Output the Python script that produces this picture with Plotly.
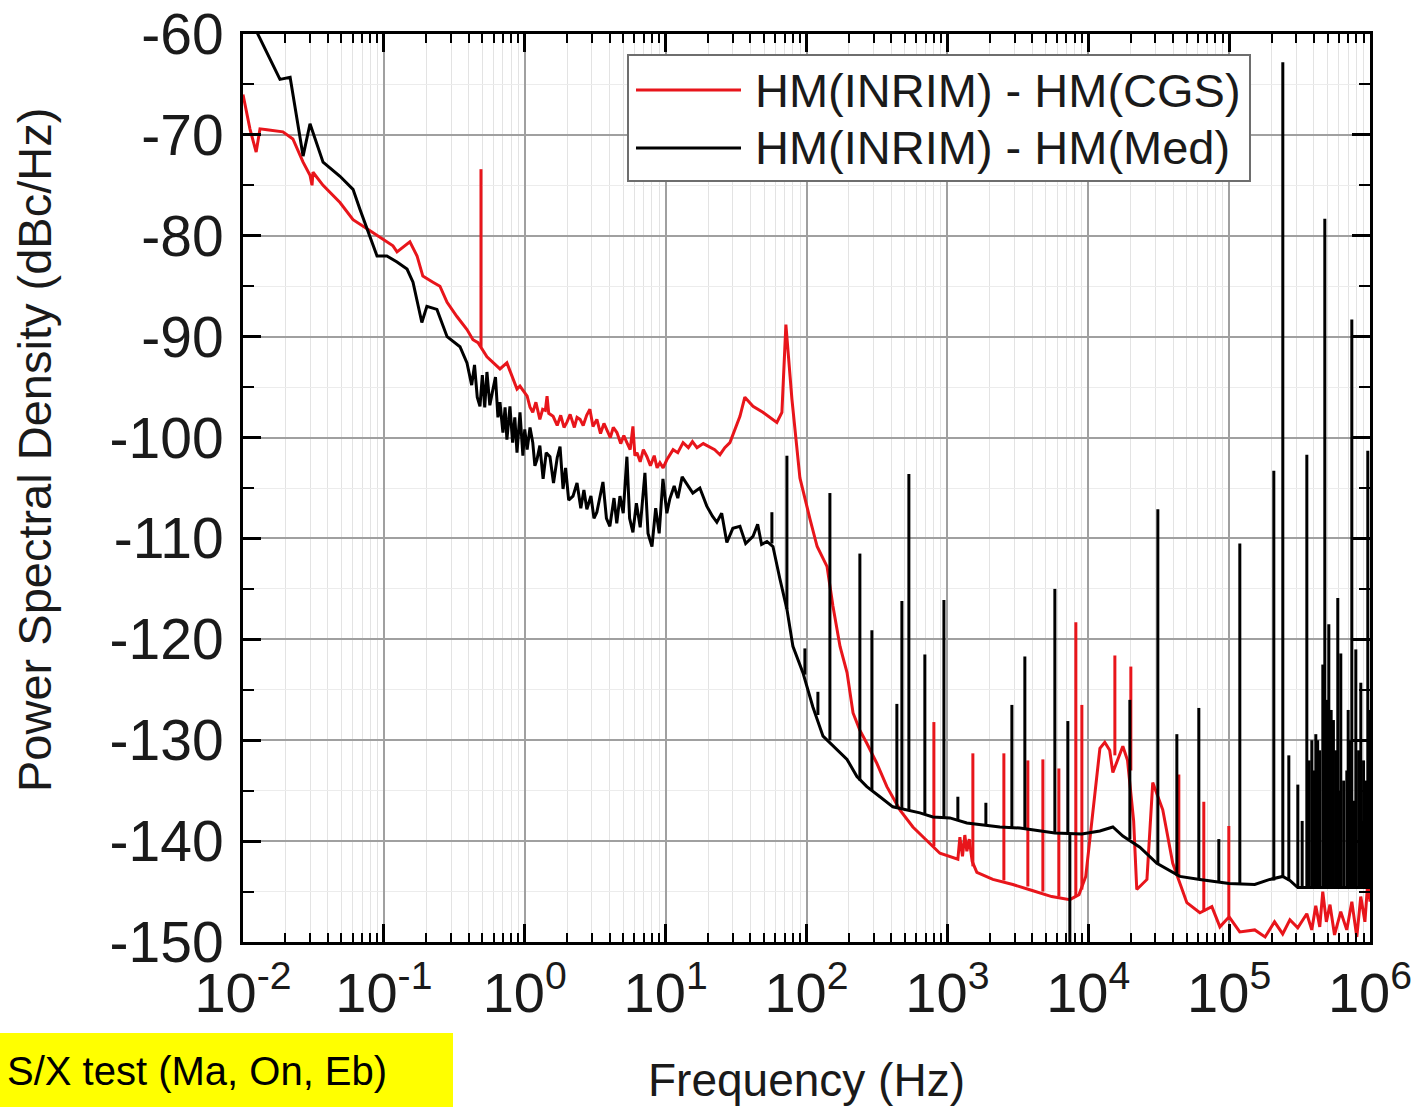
import plotly.graph_objects as go

# ---------------- data ----------------
RED_NAME = "HM(INRIM) - HM(CGS)"
BLACK_NAME = "HM(INRIM) - HM(Med)"

red_f = [0.01, 0.0112, 0.0124, 0.0132, 0.0148, 0.0192, 0.0226, 0.0267, 0.0299, 0.0309,
         0.0314, 0.037, 0.0488, 0.0604, 0.0759, 0.0985, 0.116, 0.124, 0.153, 0.172,
         0.189, 0.223, 0.25, 0.281, 0.33, 0.389, 0.429, 0.466, 0.539, 0.667,
         0.747, 0.881, 0.925, 1.04, 1.09, 1.14, 1.20, 1.28, 1.34, 1.40,
         1.44, 1.48, 1.59, 1.70, 1.80, 1.90, 1.99, 2.10, 2.25, 2.35,
         2.47, 2.60, 2.75, 2.90, 3.05, 3.25, 3.45, 3.65, 3.83, 4.05,
         4.25, 4.51, 4.80, 5.05, 5.31, 5.60, 5.86, 6.05, 6.26, 6.60,
         6.95, 7.37, 7.80, 8.30, 8.70, 9.11, 9.60, 10.2, 11.3, 12.2,
         13.3, 14.5, 15.5, 16.7, 18.5, 20.6, 22.3, 24.3, 26.3, 28.6,
         33.7, 36.5, 41.7, 49.0, 61.6, 66.9, 71.4, 78.8, 89.8, 106,
         119, 140, 154, 173, 194, 214, 239, 268, 316, 372,
         460, 569, 715, 885, 1187, 1227, 1280, 1330, 1375, 1430,
         1500, 1619, 2103, 2917, 4000, 5500, 7400, 8600, 9600, 10800,
         12100, 13100, 14200, 14950, 17600, 19000, 21000, 22100, 26100, 28700,
         33800, 39800, 50100, 62000, 75400, 86000, 100000, 119000, 152000, 180000,
         210000, 240000, 270000, 307000, 356000, 386000, 412000, 440000, 462000, 490000,
         520000, 560000, 620000, 684000, 743000, 806000, 860000, 920000, 965000, 1000000]
red_v = [-66.0, -69.4, -71.7, -69.4, -69.5, -69.7, -70.4, -72.7, -74.0, -75.0,
         -73.7, -75.0, -76.7, -78.4, -79.3, -80.3, -81.0, -81.6, -80.6, -82.0,
         -84.0, -84.6, -85.0, -86.6, -88.0, -89.3, -90.3, -90.6, -92.0, -93.2,
         -92.6, -95.2, -94.9, -95.9, -97.0, -97.5, -96.5, -98.2, -97.2, -97.3,
         -95.9, -97.6, -97.9, -98.8, -97.8, -99.0, -98.5, -97.7, -99.0, -98.0,
         -98.2, -98.8, -97.8, -97.2, -98.9, -98.2, -99.6, -98.6, -99.2, -100.0,
         -99.0, -99.5, -100.6, -99.8, -100.5, -101.2, -98.9, -101.8, -101.5, -102.4,
         -101.2, -101.9, -102.8, -101.8, -103.0, -102.5, -103.0, -102.2, -101.2, -101.5,
         -100.5, -101.0, -100.4, -101.0, -100.6, -100.9, -101.2, -101.7, -101.0, -100.5,
         -97.9, -96.0, -96.9, -97.5, -98.5, -97.5, -88.8, -96.2, -104.0, -108.1,
         -110.8, -112.8, -116.7, -120.7, -123.3, -127.3, -129.0, -130.3, -132.3, -134.6,
         -136.9, -138.6, -139.9, -141.2, -141.8, -139.6, -141.5, -139.4, -141.0, -139.8,
         -142.0, -143.1, -143.8, -144.3, -144.9, -145.5, -145.8, -145.3, -143.5, -137.2,
         -130.8, -130.2, -131.0, -133.2, -130.6, -132.0, -138.0, -144.8, -143.8, -134.2,
         -136.9, -142.2, -146.1, -147.1, -146.5, -148.5, -147.5, -149.0, -148.8, -149.5,
         -148.0, -149.2, -147.8, -148.6, -147.2, -148.8, -146.4, -148.5, -145.0, -148.0,
         -146.3, -149.3, -147.0, -148.8, -146.0, -149.5, -145.5, -148.0, -144.0, -146.0]

# narrow spurs of the red trace: frequency, foot level, peak level
red_spur_f = [0.489, 802, 1517, 2518, 3726, 4763, 6186, 8166, 9008, 15450, 20060, 43950, 66100, 99500]
red_spur_base = [-91.0, -140.5, -142.5, -143.9, -144.5, -145.0, -145.5, -145.5, -144.8, -131.5,
                 -133.0, -143.5, -147.0, -147.5]
red_spur_peak = [-73.4, -128.2, -131.3, -131.3, -132.0, -131.9, -132.8, -118.3, -126.5, -121.6,
                 -122.7, -133.4, -136.1, -138.5]

black_f = [0.01, 0.0183, 0.0216, 0.0267, 0.0299, 0.037, 0.0488, 0.0604, 0.0677, 0.0759,
           0.0894, 0.105, 0.124, 0.146, 0.161, 0.186, 0.202, 0.238, 0.281, 0.347,
           0.389, 0.42, 0.44, 0.46, 0.481, 0.50, 0.52, 0.539, 0.565, 0.595,
           0.62, 0.645, 0.667, 0.70, 0.725, 0.747, 0.785, 0.82, 0.85, 0.881,
           0.925, 0.97, 1.0, 1.04, 1.09, 1.14, 1.18, 1.22, 1.28, 1.35,
           1.42, 1.51, 1.60, 1.70, 1.78, 1.87, 1.95, 2.05, 2.20, 2.35,
           2.50, 2.63, 2.76, 2.95, 3.10, 3.25, 3.40, 3.59, 3.80, 4.02,
           4.30, 4.50, 4.74, 5.00, 5.31, 5.55, 5.86, 6.20, 6.60, 7.13,
           7.50, 8.00, 8.50, 9.0, 9.57, 10.2, 10.7, 11.5, 12.2, 13.1,
           15.6, 17.5, 19.6, 21.5, 23.1, 25.0, 27.2, 30.0, 33.7, 37.0,
           41.7, 45.0, 48.0, 52.4, 57.8, 61.6, 64.7, 72.6, 80.1, 94.3,
           111, 131, 173, 194, 228, 268, 332, 410, 638, 789,
           1041, 1375, 2358, 3270, 5794, 9008, 12090, 14950, 17600, 23240,
           30690, 44670, 61950, 100000, 152000, 194500, 240000, 270000, 307000, 1000000]
black_v = [-57.0, -64.5, -64.3, -72.1, -68.9, -72.7, -74.1, -75.4, -77.4, -79.3,
           -82.0, -82.0, -82.6, -83.3, -84.6, -88.6, -87.0, -87.3, -90.0, -91.0,
           -92.6, -94.8, -92.8, -96.0, -96.9, -93.8, -97.0, -93.5, -96.8, -95.2,
           -94.0, -98.0, -96.5, -99.5, -97.0, -100.2, -96.9, -100.5, -98.0, -101.5,
           -97.5, -101.8, -99.2, -101.2, -99.0, -100.5, -102.8, -102.2, -100.8, -104.1,
           -101.5, -101.9, -104.5, -102.0, -100.9, -105.1, -103.0, -106.2, -105.8, -104.5,
           -107.0, -105.2, -107.1, -105.8, -108.0, -107.4, -106.0, -104.4, -108.0, -108.8,
           -106.0, -108.5, -105.8, -107.5, -101.9, -108.0, -109.4, -106.5, -108.9, -103.5,
           -109.5, -110.8, -107.0, -109.5, -104.1, -107.5, -106.1, -104.8, -106.0, -103.9,
           -105.5, -105.0, -106.8, -107.8, -108.4, -107.5, -110.4, -109.0, -108.8, -110.5,
           -109.8, -108.6, -110.6, -110.3, -110.8, -112.8, -114.0, -117.0, -120.7, -123.3,
           -126.7, -129.6, -131.2, -131.9, -133.6, -134.6, -135.6, -136.6, -137.2, -137.6,
           -137.7, -138.2, -138.6, -138.7, -139.2, -139.3, -139.0, -138.6, -139.5, -140.6,
           -142.2, -143.5, -143.8, -144.2, -144.3, -143.8, -143.5, -143.9, -144.6, -144.6]

# narrow spurs of the black trace: frequency, foot level, peak level
black_spur_f = [56.8, 72.6, 97.4, 120.5, 146.6, 239.3, 291.2, 438, 475.5, 533,
                692, 945, 1187, 1876, 2870, 3548, 5794, 7164, 7402, 19740,
                31190, 42550, 60950, 84500, 119100, 207600, 240500, 265300, 307400, 330000,
                356100, 370000, 386400, 400000, 412400, 425000, 440000, 462400, 477800, 495000,
                510100, 530000, 550000, 570000, 590700, 605000, 620300, 650000, 684500, 700000,
                720000, 742800, 770000, 793100, 830000, 860600, 880000, 900000, 930000, 964700,
                990000]
black_spur_base = [-110.5, -117.0, -123.5, -127.5, -130.0, -134.0, -135.0, -136.7, -136.8, -137.0,
                   -137.3, -137.7, -138.0, -138.4, -138.7, -138.8, -139.2, -139.2, -139.2, -139.8,
                   -142.2, -143.4, -143.8, -144.0, -144.2, -143.9, -143.5, -143.9, -144.6, -144.6,
                   -144.6, -144.6, -144.6, -144.6, -144.6, -144.6, -144.6, -144.6, -144.6, -144.6,
                   -144.6, -144.6, -144.6, -144.6, -144.6, -144.6, -144.6, -144.6, -144.6, -144.6,
                   -144.6, -144.6, -144.6, -144.6, -144.6, -144.6, -144.6, -144.6, -144.6, -144.6,
                   -144.6]
black_spur_peak = [-107.4, -101.8, -120.9, -125.2, -105.5, -111.5, -119.1, -126.4, -116.2, -103.6,
                   -121.5, -116.1, -135.6, -136.2, -126.5, -121.7, -115.0, -128.1, -152.0, -126.0,
                   -107.1, -129.4, -126.8, -139.8, -110.5, -103.3, -62.8, -131.5, -134.4, -138.0,
                   -101.7, -132.0, -130.0, -133.0, -129.4, -130.0, -131.0, -122.5, -78.3, -126.0,
                   -118.5, -127.0, -128.0, -131.0, -115.9, -135.0, -121.4, -134.0, -133.0, -127.0,
                   -130.0, -88.3, -136.0, -121.0, -131.0, -124.3, -138.0, -132.0, -134.0, -101.3,
                   -127.0]

x_tickvals = [1e-2, 1e-1, 1e0, 1e1, 1e2, 1e3, 1e4, 1e5, 1e6]
x_ticktext = ["10<sup>-2</sup>", "10<sup>-1</sup>", "10<sup>0</sup>", "10<sup>1</sup>",
              "10<sup>2</sup>", "10<sup>3</sup>", "10<sup>4</sup>", "10<sup>5</sup>",
              "10<sup>6</sup>"]
y_tickvals = [-60, -70, -80, -90, -100, -110, -120, -130, -140, -150]
y_ticktext = ["-60", "-70", "-80", "-90", "-100", "-110", "-120", "-130", "-140", "-150"]

X_TITLE = "Frequency (Hz)"
Y_TITLE = "Power Spectral Density (dBc/Hz)"
NOTE_TEXT = "S/X test (Ma, On, Eb)"

# ---------------- styling ----------------
RED = "#e8151b"
BLACK = "#000000"
FONT = "Liberation Sans, Arial, sans-serif"
LW = 3
W, H = 1426, 1107
L, R, T, B = 243, 56, 34, 165
PW, PH = W - L - R, H - T - B


def px(xp):
    return (xp - L) / PW


def py(yp):
    return (H - B - yp) / PH


def spur_xy(fs, base, peak):
    xs, ys = [], []
    for f, b, p in zip(fs, base, peak):
        xs += [f, f, None]
        ys += [b, p, None]
    return xs, ys


fig = go.Figure()
fig.add_trace(go.Scatter(x=red_f, y=red_v, mode="lines", name=RED_NAME,
                         line=dict(color=RED, width=LW), showlegend=False))
rx, ry = spur_xy(red_spur_f, red_spur_base, red_spur_peak)
fig.add_trace(go.Scatter(x=rx, y=ry, mode="lines", name=RED_NAME,
                         line=dict(color=RED, width=LW), showlegend=False))
fig.add_trace(go.Scatter(x=black_f, y=black_v, mode="lines", name=BLACK_NAME,
                         line=dict(color=BLACK, width=LW), showlegend=False))
bx, by = spur_xy(black_spur_f, black_spur_base, black_spur_peak)
fig.add_trace(go.Scatter(x=bx, y=by, mode="lines", name=BLACK_NAME,
                         line=dict(color=BLACK, width=LW), showlegend=False))

minor_x = [m * 10.0 ** e for e in range(-2, 6) for m in range(2, 10)]

fig.update_xaxes(
    type="log", range=[-2, 6], tickmode="array", tickvals=x_tickvals, ticktext=x_ticktext,
    ticks="inside", ticklen=18, tickwidth=2.5, tickcolor="black",
    showline=True, linecolor="black", linewidth=3, mirror="allticks",
    showgrid=True, gridcolor="#a0a0a0", gridwidth=1.5,
    minor=dict(tickmode="array", tickvals=minor_x, ticks="inside", ticklen=9,
               tickwidth=2, tickcolor="black", showgrid=True, gridcolor="#e3e3e3", gridwidth=1),
    tickfont=dict(family=FONT, size=56, color="#1a1a1a"), ticklabelstandoff=0,
    zeroline=False, automargin=False,
)
fig.update_yaxes(
    range=[-150, -60], tickmode="array", tickvals=y_tickvals, ticktext=y_ticktext,
    ticks="inside", ticklen=18, tickwidth=2.5, tickcolor="black",
    showline=True, linecolor="black", linewidth=3, mirror="allticks",
    showgrid=True, gridcolor="#a0a0a0", gridwidth=1.5,
    minor=dict(dtick=5, tick0=-60, ticks="inside", ticklen=11, tickwidth=2,
               tickcolor="black", showgrid=True, gridcolor="#ececec", gridwidth=1),
    tickfont=dict(family=FONT, size=57, color="#1a1a1a"), ticklabelstandoff=5,
    zeroline=False, automargin=False,
)

shapes = [
    # legend frame
    dict(type="rect", xref="paper", yref="paper", x0=px(628), x1=px(1250), y0=py(181), y1=py(55),
         line=dict(color="#6e6e6e", width=2), fillcolor="white", layer="above"),
    dict(type="line", xref="paper", yref="paper", x0=px(636), x1=px(741), y0=py(90), y1=py(90),
         line=dict(color=RED, width=3), layer="above"),
    dict(type="line", xref="paper", yref="paper", x0=px(636), x1=px(741), y0=py(148), y1=py(148),
         line=dict(color=BLACK, width=3), layer="above"),
    # yellow note box
    dict(type="rect", xref="paper", yref="paper", x0=px(-5), x1=px(453), y0=py(1112), y1=py(1033),
         line=dict(width=0), fillcolor="#ffff00", layer="above"),
]
annotations = [
    dict(text=RED_NAME, xref="paper", yref="paper", x=px(753), y=py(90), xanchor="left",
         yanchor="middle", showarrow=False, font=dict(family=FONT, size=47, color="#1a1a1a")),
    dict(text=BLACK_NAME, xref="paper", yref="paper", x=px(753), y=py(148), xanchor="left",
         yanchor="middle", showarrow=False, font=dict(family=FONT, size=47, color="#1a1a1a")),
    dict(text=X_TITLE, xref="paper", yref="paper", x=px(806), y=py(1080), xanchor="center",
         yanchor="middle", showarrow=False, font=dict(family=FONT, size=46, color="#1a1a1a")),
    dict(text=Y_TITLE, xref="paper", yref="paper", x=px(34), y=py(450), xanchor="center",
         yanchor="middle", textangle=-90, showarrow=False,
         font=dict(family=FONT, size=47, color="#1a1a1a")),
    dict(text=NOTE_TEXT, xref="paper", yref="paper", x=px(389), y=py(1071), xanchor="right",
         yanchor="middle", showarrow=False,
         font=dict(family="Liberation Sans, Arial", size=40, color="black")),
]

fig.update_layout(
    width=W, height=H, margin=dict(l=L, r=R, t=T, b=B, pad=0, autoexpand=False),
    paper_bgcolor="white", plot_bgcolor="white",
    shapes=shapes, annotations=annotations, showlegend=False,
)

fig.write_html("out.html")
